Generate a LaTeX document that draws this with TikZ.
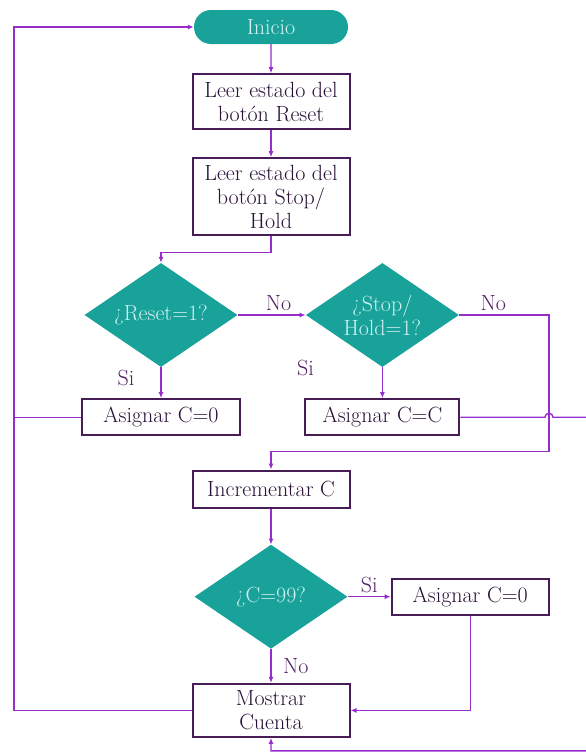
\documentclass[tikz,border=0pt]{standalone}
\usepackage{fontspec}
\usepackage{tikz}
\usetikzlibrary{arrows.meta,positioning,calc,shapes.geometric,shapes.misc}
\definecolor{tealfill}{RGB}{24,162,154}
\definecolor{dtext}{RGB}{210,242,240}
\definecolor{linec}{RGB}{150,45,205}
\definecolor{boxedge}{RGB}{72,28,84}
\definecolor{boxtext}{RGB}{40,18,55}
\definecolor{lblc}{RGB}{82,32,102}

\begin{document}
\begin{tikzpicture}[
  x=1pt, y=1pt,
  font=\fontsize{22}{24}\selectfont,
  node distance=29pt and 68pt,
  startnode/.style={rounded rectangle, fill=tealfill, text=dtext, minimum width=158pt, minimum height=34pt, inner sep=2pt},
  box/.style={draw=boxedge, line width=2pt, fill=white, text=boxtext, align=center, minimum width=157pt, minimum height=36pt, inner sep=2pt},
  decision/.style={diamond, fill=tealfill, text=dtext, align=center, minimum width=153pt, minimum height=104pt, inner sep=-14pt},
  arr/.style={-{Latex[length=6pt,width=5pt]}, line width=1.4pt, draw=linec},
  wire/.style={line width=1.4pt, draw=linec},
  lbl/.style={text=lblc}
]
\useasboundingbox (0,0) rectangle (586,-753);
\node[startnode] (inicio) at (271,-27) {Inicio};
\node[box, minimum height=55pt, below=29pt of inicio] (leerreset) {Leer estado del\\botón Reset};
\node[box, minimum height=77pt, below=27pt of leerreset] (leerstop) {Leer estado del\\botón Stop/\\Hold};
\node[decision] (dreset) at (161,-315) {¿Reset=1?};
\node[decision, right=68pt of dreset] (dstop) {¿Stop/\\Hold=1?};
\node[box, minimum width=158pt, below=31pt of dreset] (asigcero) {Asignar C=0};
\node[box, minimum width=154pt, below=31pt of dstop] (asigc) {Asignar C=C};
\node[box, minimum height=37pt] (incr) at (271,-489) {Incrementar C};
\node[decision, below=36pt of incr] (dnn) {¿C=99?};
\node[box, right=43pt of dnn] (asigcerob) {Asignar C=0};
\node[box, minimum height=53pt, below=34pt of dnn] (mostrar) {Mostrar\\Cuenta};
\coordinate (railtop) at (14,-27);
\coordinate (hop) at (549,0);

\node[lbl] (sireset) at ([xshift=-35pt,yshift=-11pt]dreset.south) {Si};
\node[lbl] (sistop) at ([xshift=-77pt,yshift=-1pt]dstop.south) {Si};

\draw[arr] (inicio) -- (leerreset);
\draw[arr] (leerreset) -- (leerstop);
\draw[arr] (leerstop.south) -- ++(0,-16) -| (dreset.north);
\draw[arr] (dreset) -- node[lbl, above, pos=0.6] {No} (dstop);
\draw[arr] (dreset) -- (asigcero);
\draw[arr] (dstop) -- (asigc);
\draw[arr] (dstop.east) -- node[lbl, above, pos=0.38] {No} (dstop.east -| hop) |- ([yshift=18pt]incr.north) -- (incr.north);
\draw[arr] (asigc.east) -- ([xshift=-4pt]asigc.east -| hop) arc[start angle=180, end angle=0, radius=4] -- ++(41,0) |- ([yshift=-13pt]mostrar.south) -- (mostrar.south);
\draw[wire] (asigcero.west) -- (asigcero.west -| railtop);
\draw[arr] (mostrar.west) -| (railtop) -- (inicio.west);
\draw[arr] (incr) -- (dnn);
\draw[arr] (dnn) -- node[lbl, above] {Si} (asigcerob);
\draw[arr] (dnn) -- node[lbl, right=8pt] {No} (mostrar);
\draw[arr] (asigcerob.south) |- (mostrar.east);
\end{tikzpicture}
\end{document}
